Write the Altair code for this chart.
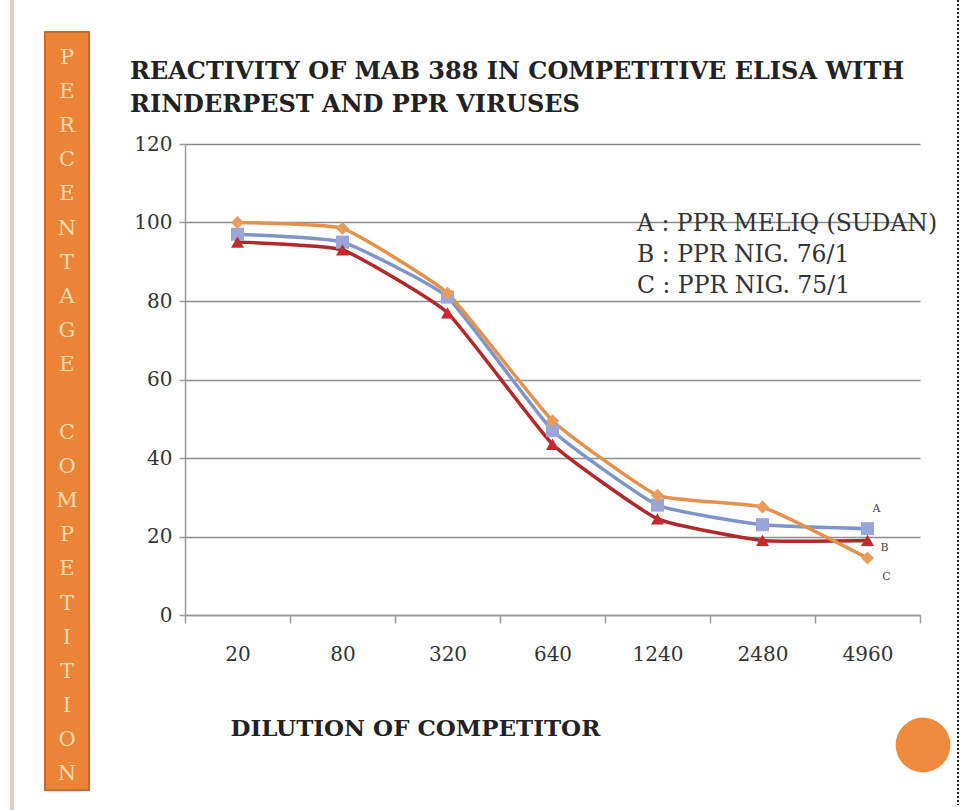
import altair as alt
import pandas as pd

# ---- values -------------------------------------------------------------
dilution = ["20", "80", "320", "640", "1240", "2480", "4960"]
series_names = ["A", "B", "C"]
series_a = [97, 95, 81, 47, 28, 23, 22]          # blue squares
series_b = [95, 93, 77, 43.5, 24.5, 19, 19]      # red triangles
series_c = [100, 98.5, 82, 49.5, 30.5, 27.5, 14.5]  # orange diamonds
legend_lines = ["A : PPR MELIQ (SUDAN)", "B : PPR NIG. 76/1", "C : PPR NIG. 75/1"]
title_lines = ["REACTIVITY OF MAB 388 IN COMPETITIVE ELISA WITH",
               "RINDERPEST AND PPR VIRUSES"]
x_title = "DILUTION OF COMPETITOR"
side_words = ["PERCENTAGE", "COMPETITION"]
y_ticks = [0, 20, 40, 60, 80, 100, 120]

# ---- layout -------------------------------------------------------------
W, H = 735, 471
LEFT, TOP = 185, 144
SERIF = "DejaVu Serif"
LETTER_STEP = 34.1

line_colors = ["#7f95c9", "#b3282b", "#e3924c"]
marker_colors = ["#9aa5d8", "#c42a2c", "#e89d5c"]
shapes = ["square", "triangle-up", "diamond"]

rows = []
for name, vals in zip(series_names, [series_a, series_b, series_c]):
    for d, v in zip(dilution, vals):
        rows.append({"dilution": d, "value": v, "series": name})
df = pd.DataFrame(rows)

x_enc = alt.X(
    "dilution:N",
    sort=dilution,
    bandPosition=0.5,
    scale=alt.Scale(type="band", paddingInner=0, paddingOuter=0),
    axis=alt.Axis(
        title=x_title, titleFont=SERIF, titleFontSize=23, titleFontWeight="bold",
        titleColor="#222222", titleX=45, titleY=102, titleAlign="left",
        titleBaseline="top", titleAngle=0,
        labelAngle=0, labelFont=SERIF, labelFontSize=20, labelColor="#333333",
        labelPadding=21, tickBand="extent", tickSize=8, tickColor="#9a9a9a",
        tickWidth=1.5, domainColor="#9a9a9a", domainWidth=1.5, grid=False,
    ),
)
y_enc = alt.Y(
    "value:Q",
    scale=alt.Scale(domain=[0, 120], nice=False),
    axis=alt.Axis(
        title=None, values=y_ticks, grid=True, gridColor="#8c8c8c", gridWidth=1.5,
        domainColor="#9a9a9a", domainWidth=1.5, tickSize=6, tickColor="#9a9a9a",
        tickWidth=1.5, labelFont=SERIF, labelFontSize=20, labelColor="#333333",
        labelPadding=7,
    ),
)

base = alt.Chart(df)

lines = base.mark_line(strokeWidth=3.5, interpolate="cardinal", tension=0.6).encode(
    x=x_enc, y=y_enc,
    color=alt.Color("series:N", scale=alt.Scale(domain=series_names, range=line_colors),
                    legend=None),
)
points = base.mark_point(filled=True, opacity=1, size=170).encode(
    x=x_enc, y=y_enc,
    color=alt.Color("series:N", scale=alt.Scale(domain=series_names, range=marker_colors),
                    legend=None),
    shape=alt.Shape("series:N", scale=alt.Scale(domain=series_names, range=shapes),
                    legend=None),
)

# letters naming each curve beside its last point
end_layers = []
last_vals = [series_a[-1], series_b[-1], series_c[-1]]
for name, val, dx, dy in zip(series_names, last_vals, [9, 17, 19], [-20, 8, 19]):
    end_layers.append(
        alt.Chart(pd.DataFrame({"dilution": [dilution[-1]], "value": [val], "label": [name]}))
        .mark_text(font=SERIF, fontSize=11, color="#444444", dx=dx, dy=dy, align="center",
                   baseline="middle")
        .encode(x=x_enc, y=y_enc, text="label:N")
    )

one = pd.DataFrame({"k": [0]})

legend_text = alt.Chart(one).mark_text(
    text=legend_lines, font=SERIF, fontSize=23.5, color="#333333", align="left",
    baseline="top", lineHeight=31,
).encode(x=alt.value(452), y=alt.value(68))

title_text = alt.Chart(one).mark_text(
    text=title_lines, font=SERIF, fontSize=24, fontWeight="bold", color="#222222",
    align="left", baseline="top", lineHeight=33,
).encode(x=alt.value(130 - LEFT), y=alt.value(60 - TOP))

# orange side banner; each word is stacked letter by letter, one blank step apart
banner = alt.Chart(one).mark_rect(color="#ec8437", stroke="#c86a2e", strokeWidth=2).encode(
    x=alt.value(45 - LEFT), x2=alt.value(89 - LEFT),
    y=alt.value(32 - TOP), y2=alt.value(790 - TOP),
)
banner_layers = []
start = 47
for word in side_words:
    banner_layers.append(
        alt.Chart(one).mark_text(
            text=list(word), font=SERIF, fontSize=21, color="#f8dcb4", align="center",
            baseline="top", lineHeight=LETTER_STEP,
        ).encode(x=alt.value(67 - LEFT), y=alt.value(start - TOP))
    )
    start += (len(word) + 1) * LETTER_STEP

left_rule = alt.Chart(one).mark_rule(color="#e6c9c3", strokeWidth=4).encode(
    x=alt.value(12 - LEFT), y=alt.value(-TOP), y2=alt.value(810 - TOP),
)
right_rule = alt.Chart(one).mark_rule(color="#222222", strokeWidth=2, strokeDash=[2, 2]).encode(
    x=alt.value(958 - LEFT), y=alt.value(-TOP), y2=alt.value(805 - TOP),
)
dot = alt.Chart(one).mark_point(filled=True, opacity=1, color="#f08a3c", shape="circle",
                                size=3000).encode(
    x=alt.value(923 - LEFT), y=alt.value(745 - TOP),
)

chart = alt.layer(
    left_rule, right_rule, banner, *banner_layers, title_text, legend_text,
    lines, points, *end_layers, dot,
).resolve_scale(color="independent").properties(
    width=W, height=H,
    padding={"left": LEFT, "top": TOP, "right": 972 - LEFT - W, "bottom": 810 - TOP - H},
    autosize=alt.AutoSizeParams(type="none"),
    background="#ffffff",
).configure_view(stroke=None)

chart.save("out.html", embed_options={"renderer": "svg", "actions": False})
